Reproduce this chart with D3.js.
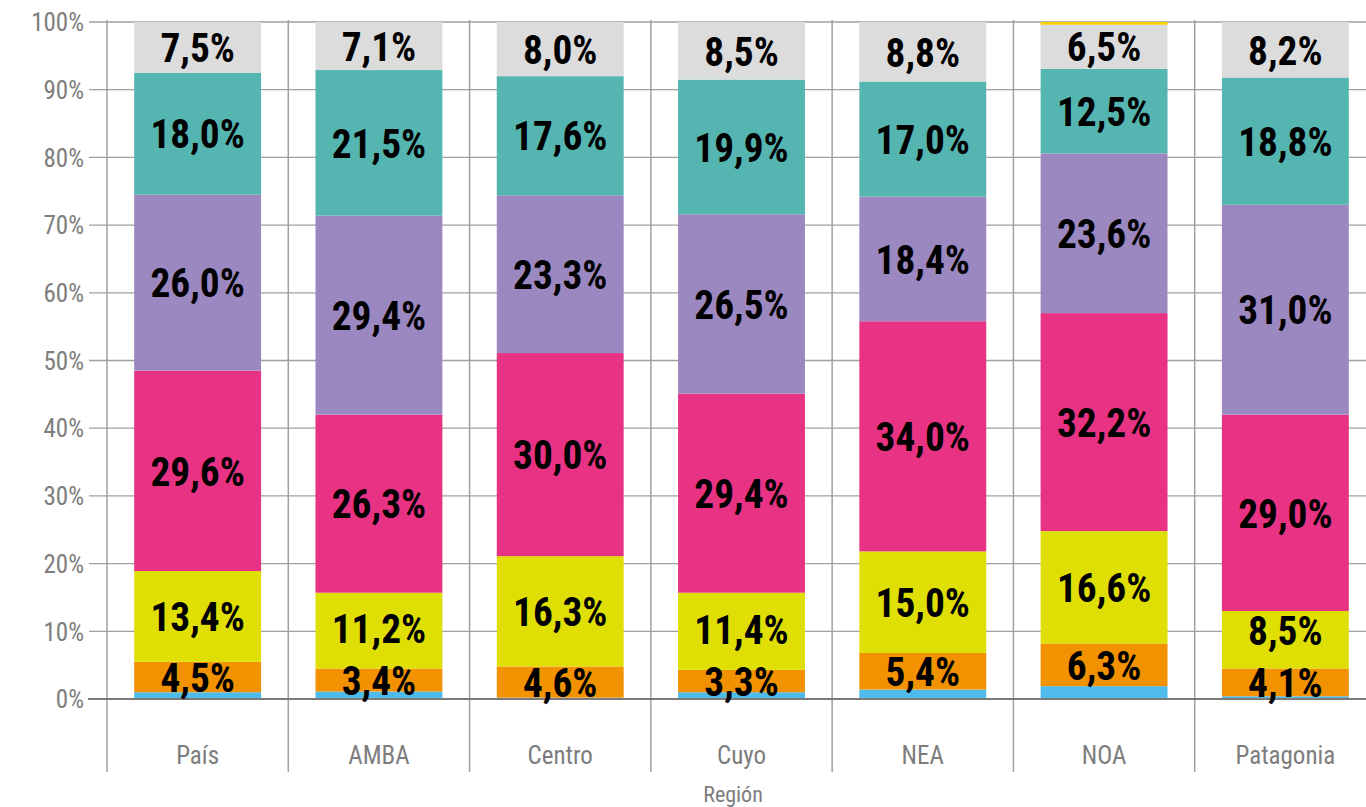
<!DOCTYPE html>
<html lang="es">
<head>
<meta charset="utf-8">
<title>Región</title>
<style>
  body { margin: 0; background: #fff; }
  .lbl { font-family: "Roboto Condensed", "Liberation Sans Narrow", "DejaVu Sans Condensed", Roboto, sans-serif; font-weight: 700; }
  .tick text, .cat, .axtitle { font-family: "Roboto Condensed", "Liberation Sans Narrow", Roboto, sans-serif; fill: #7d7d7d; }
</style>
<script src="https://d3js.org/d3.v7.min.js"></script>
</head>
<body>
<svg id="chart" width="1366" height="807"></svg>
<script>
// categorias y series (porcentajes, de abajo hacia arriba)
var regiones = ["País", "AMBA", "Centro", "Cuyo", "NEA", "NOA", "Patagonia"];
var serieAzul     = [1.0, 1.1, 0.2, 1.0, 1.4, 1.9, 0.4];
var serieNaranja  = [4.5, 3.4, 4.6, 3.3, 5.4, 6.3, 4.1];
var serieAmarillo = [13.4, 11.2, 16.3, 11.4, 15.0, 16.6, 8.5];
var serieRosa     = [29.6, 26.3, 30.0, 29.4, 34.0, 32.2, 29.0];
var serieVioleta  = [26.0, 29.4, 23.3, 26.5, 18.4, 23.6, 31.0];
var serieVerde    = [18.0, 21.5, 17.6, 19.9, 17.0, 12.5, 18.8];
var serieGris     = [7.5, 7.1, 8.0, 8.5, 8.8, 6.5, 8.2];
var serieOro      = [0, 0, 0, 0, 0, 0.4, 0];
var yTicks = [0, 10, 20, 30, 40, 50, 60, 70, 80, 90, 100];

var series = [
  {key: "azul", vals: serieAzul, color: "#4fbbeb", label: false},
  {key: "naranja", vals: serieNaranja, color: "#f39200", label: true},
  {key: "amarillo", vals: serieAmarillo, color: "#dfdf06", label: true},
  {key: "rosa", vals: serieRosa, color: "#e83384", label: true},
  {key: "violeta", vals: serieVioleta, color: "#9c88c0", label: true},
  {key: "verde", vals: serieVerde, color: "#55b5b1", label: true},
  {key: "gris", vals: serieGris, color: "#dcdcdc", label: true},
  {key: "oro", vals: serieOro, color: "#f7cf00", label: false}
];

var rows = regiones.map(function(r, i) {
  var o = {region: r};
  series.forEach(function(s) { o[s.key] = s.vals[i]; });
  return o;
});

var stack = d3.stack().keys(series.map(function(s) { return s.key; }));
var stacked = stack(rows);

var svg = d3.select("#chart");
var x = d3.scaleBand().domain(regiones).range([107, 1376]).padding(0);
var y = d3.scaleLinear().domain([0, 100]).range([699, 22]);
var barW = x.bandwidth() * 0.70;
var fmt = function(v) { return v.toFixed(1).replace(".", ",") + "%"; };

// grilla horizontal
svg.append("g").selectAll("line").data(yTicks).enter().append("line")
  .attr("x1", 89).attr("x2", 1366)
  .attr("y1", function(d) { return y(d); }).attr("y2", function(d) { return y(d); })
  .attr("stroke", "#a0a0a0").attr("stroke-width", 1.3);

// separadores verticales
svg.append("g").selectAll("line").data(regiones).enter().append("line")
  .attr("x1", function(d) { return x(d); }).attr("x2", function(d) { return x(d); })
  .attr("y1", 20).attr("y2", 772)
  .attr("stroke", "#a0a0a0").attr("stroke-width", 1.5);

// eje y
var yAxis = d3.axisLeft(y).tickValues(yTicks).tickSize(0).tickPadding(0)
  .tickFormat(function(d) { return d + "%"; });
var gy = svg.append("g").attr("transform", "translate(84,0)").call(yAxis);
gy.select(".domain").remove();
gy.selectAll(".tick text").attr("font-size", 25).attr("dy", "0.35em");

// barras
var layers = svg.append("g").selectAll("g").data(stacked).enter().append("g")
  .attr("fill", function(d, i) { return series[i].color; });
layers.selectAll("rect").data(function(d) { return d; }).enter().append("rect")
  .attr("x", function(d) { return x(d.data.region) + (x.bandwidth() - barW) / 2; })
  .attr("width", barW)
  .attr("y", function(d) { return y(d[1]); })
  .attr("height", function(d) { return y(d[0]) - y(d[1]); });

// linea de cero
svg.append("line").attr("x1", 88).attr("x2", 1366)
  .attr("y1", y(0)).attr("y2", y(0))
  .attr("stroke", "#7a7a7a").attr("stroke-width", 2.2);

// etiquetas de valores (se suben si chocan con la de abajo)
var labels = [];
regiones.forEach(function(r, j) {
  var prev = null;
  stacked.forEach(function(layer, i) {
    if (!series[i].label) return;
    var d = layer[j];
    var cy = y((d[0] + d[1]) / 2);
    if (prev !== null && prev - cy < 52) cy = prev - 52;
    prev = cy;
    labels.push({cx: x(r) + x.bandwidth() / 2, cy: cy, v: d[1] - d[0]});
  });
});

svg.append("g").selectAll("text").data(labels).enter().append("text")
  .attr("class", "lbl")
  .attr("transform", function(d) { return "translate(" + d.cx + "," + d.cy + ") scale(0.96,1)"; })
  .attr("dy", "0.36em")
  .attr("text-anchor", "middle")
  .attr("font-size", 41)
  .attr("fill", "#000")
  .text(function(d) { return fmt(d.v); });

// etiquetas de categoria
svg.append("g").selectAll("text").data(regiones).enter().append("text")
  .attr("class", "cat")
  .attr("x", function(d) { return x(d) + x.bandwidth() / 2; })
  .attr("y", 764)
  .attr("text-anchor", "middle")
  .attr("font-size", 25)
  .text(function(d) { return d; });

svg.append("text").attr("class", "axtitle")
  .attr("x", 733).attr("y", 802).attr("text-anchor", "middle")
  .attr("font-size", 22).text("Región");
</script>
</body>
</html>
